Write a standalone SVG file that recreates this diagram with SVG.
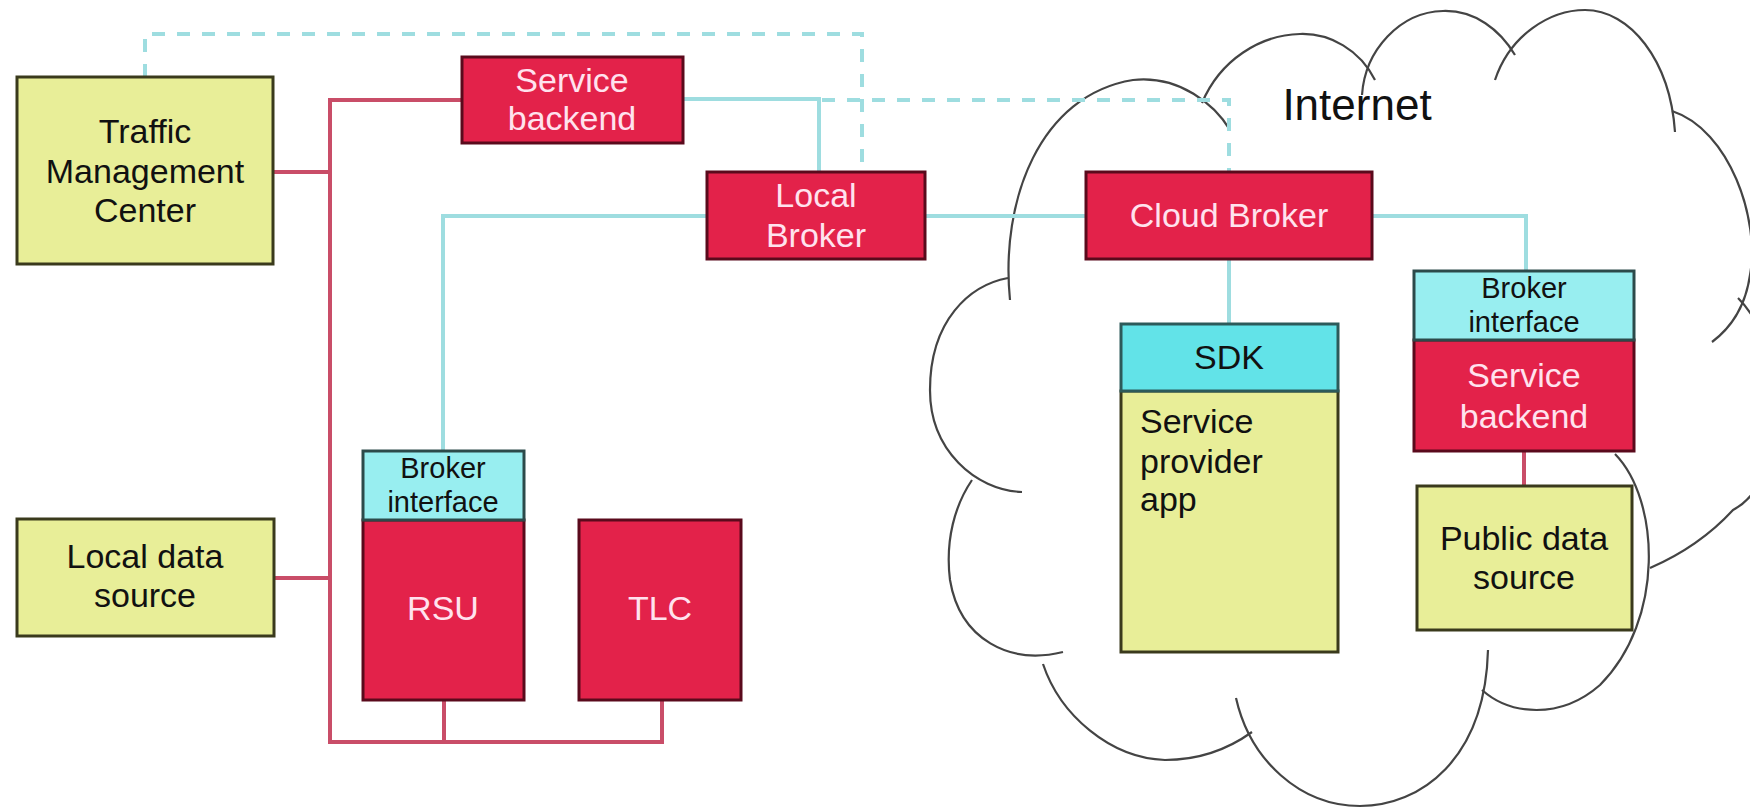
<svg xmlns="http://www.w3.org/2000/svg" width="1750" height="810" viewBox="0 0 1750 810">
<style>
  text { font-family: "Liberation Sans", Arial, sans-serif; text-anchor: middle; }
  .lbl { font-size: 34px; }
  .small { font-size: 29px; }
  .dark { fill: #111; }
  .light { fill: #ffe2ee; }
  .yellow { fill: #e8ee98; stroke: #3a3a1c; stroke-width: 3; }
  .red { fill: #e3224a; stroke: #5a0a1c; stroke-width: 3; }
  .sdk { fill: #62e3e8; stroke: #2c5a5a; stroke-width: 3; }
  .bi { fill: #98eef0; stroke: #2c4a4a; stroke-width: 3; }
  .cy { fill: none; stroke: #9edde0; stroke-width: 4; }
  .cyd { fill: none; stroke: #9edde0; stroke-width: 4; stroke-dasharray: 13 12; }
  .rl { fill: none; stroke: #c94d68; stroke-width: 4; }
  .cloud { fill: none; stroke: #444; stroke-width: 2.2; }
</style>

<g id="cloud">
  <path class="cloud" d="M1010,300 C1000,200 1040,95 1133,80 C1180,75 1215,105 1230,130"/>
  <path class="cloud" d="M1202,103 C1220,60 1260,35 1300,34 C1330,33 1360,50 1375,80"/>
  <path class="cloud" d="M1362,95 C1365,50 1400,12 1443,11 C1475,10 1500,30 1515,55"/>
  <path class="cloud" d="M1495,80 C1510,35 1550,10 1585,10 C1630,10 1670,60 1675,132"/>
  <path class="cloud" d="M1672,111 C1730,130 1760,220 1750,275 C1745,310 1728,330 1712,342"/>
  <path class="cloud" d="M1738,298 C1790,350 1790,480 1733,510 C1710,535 1680,555 1650,568"/>
  <path class="cloud" d="M1615,454 C1660,500 1665,620 1600,685 C1560,720 1510,715 1482,690"/>
  <path class="cloud" d="M1488,650 C1485,760 1420,806 1360,806 C1300,806 1250,760 1236,698"/>
  <path class="cloud" d="M1252,732 C1220,755 1190,760 1165,760 C1110,758 1060,715 1043,664"/>
  <path class="cloud" d="M1063,652 C1010,665 960,640 950,580 C945,540 955,505 972,480"/>
  <path class="cloud" d="M1022,492 C975,490 930,450 930,390 C930,320 970,285 1008,278"/>
  <text x="1357" y="120" style="font-size:44px" class="dark">Internet</text>
</g>

<g id="connectors">
  <!-- red bus -->
  <polyline class="rl" points="462,100 330,100 330,742 662,742 662,700"/>
  <line class="rl" x1="273" y1="172" x2="330" y2="172"/>
  <line class="rl" x1="274" y1="578" x2="330" y2="578"/>
  <line class="rl" x1="444" y1="700" x2="444" y2="742"/>
  <line class="rl" x1="1524" y1="451" x2="1524" y2="486"/>
  <!-- cyan solid -->
  <polyline class="cy" points="683,99 819,99 819,172"/>
  <polyline class="cy" points="707,216 443,216 443,450"/>
  <line class="cy" x1="925" y1="216" x2="1086" y2="216"/>
  <line class="cy" x1="1229" y1="259" x2="1229" y2="324"/>
  <polyline class="cy" points="1372,216 1526,216 1526,271"/>
  <!-- cyan dashed -->
  <polyline class="cyd" points="145,77 145,34 862,34 862,172"/>
  <polyline class="cyd" points="822,100 1229,100 1229,172"/>
</g>

<g id="tmc">
  <rect class="yellow" x="17" y="77" width="256" height="187"/>
  <text class="lbl dark" x="145" y="143">Traffic</text>
  <text class="lbl dark" x="145" y="183">Management</text>
  <text class="lbl dark" x="145" y="222">Center</text>
</g>

<g id="service-backend-local">
  <rect class="red" x="462" y="57" width="221" height="86"/>
  <text class="lbl light" x="572" y="92">Service</text>
  <text class="lbl light" x="572" y="130">backend</text>
</g>

<g id="local-broker">
  <rect class="red" x="707" y="172" width="218" height="87"/>
  <text class="lbl light" x="816" y="207">Local</text>
  <text class="lbl light" x="816" y="247">Broker</text>
</g>

<g id="cloud-broker">
  <rect class="red" x="1086" y="172" width="286" height="87"/>
  <text class="lbl light" x="1229" y="227">Cloud Broker</text>
</g>

<g id="local-data-source">
  <rect class="yellow" x="17" y="519" width="257" height="117"/>
  <text class="lbl dark" x="145" y="568">Local data</text>
  <text class="lbl dark" x="145" y="607">source</text>
</g>

<g id="rsu">
  <rect class="red" x="363" y="520" width="161" height="180"/>
  <rect class="bi" x="363" y="451" width="161" height="69"/>
  <text class="small dark" x="443" y="478">Broker</text>
  <text class="small dark" x="443" y="512">interface</text>
  <text class="lbl light" x="443" y="620">RSU</text>
</g>

<g id="tlc">
  <rect class="red" x="579" y="520" width="162" height="180"/>
  <text class="lbl light" x="660" y="620">TLC</text>
</g>

<g id="sdk-app">
  <rect class="yellow" x="1121" y="391" width="217" height="261"/>
  <rect class="sdk" x="1121" y="324" width="217" height="67"/>
  <text class="lbl dark" x="1229" y="369">SDK</text>
  <text class="lbl dark" x="1140" y="433" style="text-anchor:start">Service</text>
  <text class="lbl dark" x="1140" y="473" style="text-anchor:start">provider</text>
  <text class="lbl dark" x="1140" y="511" style="text-anchor:start">app</text>
</g>

<g id="service-backend-cloud">
  <rect class="red" x="1414" y="340" width="220" height="111"/>
  <rect class="bi" x="1414" y="271" width="220" height="69"/>
  <text class="small dark" x="1524" y="298">Broker</text>
  <text class="small dark" x="1524" y="332">interface</text>
  <text class="lbl light" x="1524" y="387">Service</text>
  <text class="lbl light" x="1524" y="428">backend</text>
</g>

<g id="public-data-source">
  <rect class="yellow" x="1417" y="486" width="215" height="144"/>
  <text class="lbl dark" x="1524" y="550">Public data</text>
  <text class="lbl dark" x="1524" y="589">source</text>
</g>
</svg>
